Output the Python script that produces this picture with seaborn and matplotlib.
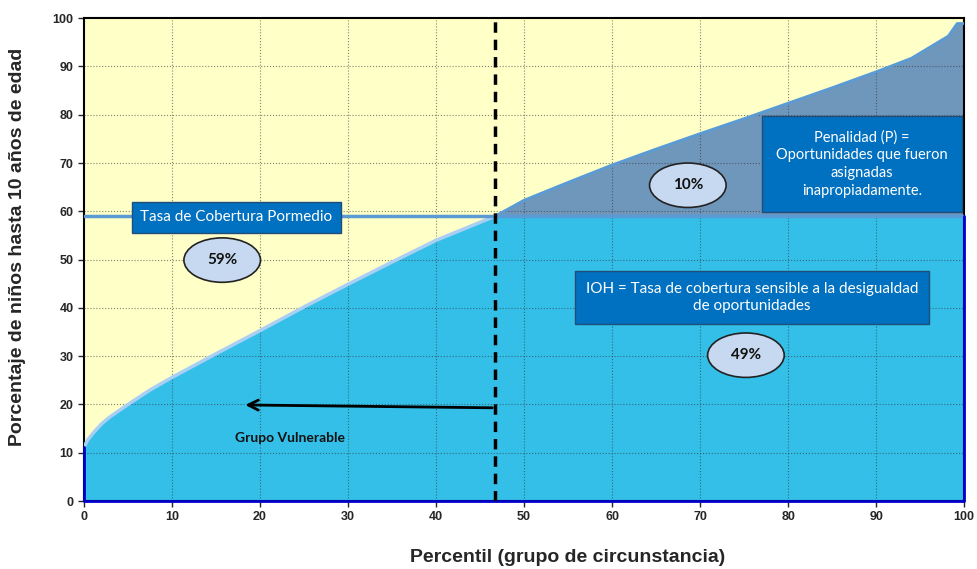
import numpy as np
import pandas as pd
import matplotlib
matplotlib.use("Agg")
import matplotlib.pyplot as plt
import seaborn as sns
from matplotlib.patches import Ellipse

# datos
percentil = [0, 0.4, 1, 2, 3, 5, 7.5, 10, 15, 20, 25, 30, 35, 40, 46.7, 50, 55, 60, 65, 70, 75, 80, 85, 90, 94, 98.2, 99.2, 100]
cobertura = [11.2, 12.6, 14, 16, 17.5, 20, 23, 25.6, 30.5, 35.3, 40.2, 44.9, 49.5, 54, 59, 62.3, 66, 69.6, 72.9, 76.1, 79.2, 82.4, 85.6, 88.9, 91.7, 96.3, 98.9, 98.9]
tasa_promedio = 59
corte_vulnerable = 46.7
etiquetas_pct = ["59%", "10%", "49%"]

df = pd.DataFrame({"Percentil": percentil, "Cobertura": cobertura})

sns.set_style("white")
plt.rcParams["font.family"] = ["Liberation Sans", "DejaVu Sans"]

fig = plt.figure(figsize=(9.78, 5.69), dpi=100)
ax = fig.add_axes([0.0859, 0.1195, 0.9, 0.8485])
ax.set_facecolor("#FFFFC8")

x = np.array(percentil)
y = np.array(cobertura)
ax.fill_between(x, 0, np.minimum(y, tasa_promedio), color="#33BFE8", zorder=1, lw=0)
ax.fill_between(x, tasa_promedio, y, where=y >= tasa_promedio, color="#6F96BB", zorder=1, lw=0)

# grid punteado
for v in range(10, 100, 10):
    ax.axvline(v, color="#333333", ls=":", lw=0.8, alpha=0.6, zorder=1.5)
    ax.axhline(v, color="#333333", ls=":", lw=0.8, alpha=0.6, zorder=1.5)

izq = df[df["Percentil"] <= corte_vulnerable]
der = df[df["Percentil"] >= corte_vulnerable]
sns.lineplot(data=izq, x="Percentil", y="Cobertura", ax=ax, color="#A9CFF5", lw=2.5, zorder=3)
sns.lineplot(data=der, x="Percentil", y="Cobertura", ax=ax, color="#5B9BD5", lw=2, zorder=3)

ax.plot([0, 100], [tasa_promedio, tasa_promedio], color="#5B9BD5", lw=2.5, zorder=3)
# bordes azules de la serie
ax.plot([0, 0, 100, 100], [cobertura[0], 0, 0, tasa_promedio], color="#0000CC", lw=2, zorder=4, clip_on=False)

ax.axvline(corte_vulnerable, color="black", ls=(0, (3, 2)), lw=2.5, zorder=5)

ax.annotate("", xy=(18, 19.9), xytext=(corte_vulnerable, 19.3),
            arrowprops=dict(arrowstyle="->", lw=2, color="black", mutation_scale=18), zorder=6)
ax.text(23.4, 13, "Grupo Vulnerable", ha="center", va="center", fontsize=10,
        fontweight="bold", family=["Lato", "DejaVu Sans"], color="#111111", zorder=6)

ax.text(17.3, 58.8, "Tasa de Cobertura Pormedio", ha="center", va="center", fontsize=11,
        color="white", family=["Lato", "DejaVu Sans"],
        bbox=dict(boxstyle="square,pad=0.55", fc="#0070C0", ec="#1F4E79", lw=1), zorder=7)
ax.text(88.4, 69.8, "Penalidad (P) =\nOportunidades que fueron\nasignadas\ninapropiadamente.",
        ha="center", va="center", fontsize=10.5, color="white", linespacing=1.35,
        family=["Lato", "DejaVu Sans"],
        bbox=dict(boxstyle="square,pad=0.95", fc="#0070C0", ec="#1F4E79", lw=1), zorder=7)
ax.text(75.9, 42.1, "IOH = Tasa de cobertura sensible a la desigualdad\nde oportunidades",
        ha="center", va="center", fontsize=11, color="white", linespacing=1.3,
        family=["Lato", "DejaVu Sans"],
        bbox=dict(boxstyle="square,pad=0.7", fc="#0070C0", ec="#1F4E79", lw=1), zorder=7)

for (cx, cy), lab in zip([(15.7, 49.9), (68.6, 65.4), (75.2, 30.2)], etiquetas_pct):
    ax.add_patch(Ellipse((cx, cy), 8.7, 9.2, fc="#C6D9F0", ec="#222222", lw=1.2, zorder=7))
    ax.text(cx, cy, lab, ha="center", va="center", fontsize=11, fontweight="bold",
            family=["Lato", "DejaVu Sans"], color="#111111", zorder=8)

ax.set_xlim(0, 100)
ax.set_ylim(0, 100)
ax.set_xticks(range(0, 101, 10))
ax.set_yticks(range(0, 101, 10))
ax.tick_params(axis="both", length=4, width=1, labelsize=9, direction="out", bottom=True, left=True)
for lab in ax.get_xticklabels() + ax.get_yticklabels():
    lab.set_fontweight("bold")
    lab.set_family(["Liberation Sans Narrow", "Liberation Sans", "DejaVu Sans"])
for s in ax.spines.values():
    s.set_color("black")
    s.set_linewidth(1.5)

ax.set_xlabel("")
ax.set_ylabel("")
fig.text(0.58, 0.02, "Percentil (grupo de circunstancia)", ha="center", va="center",
         fontsize=14, fontweight="bold")
fig.text(0.018, 0.566, "Porcentaje de niños hasta 10 años de edad", ha="center", va="center",
         rotation=90, fontsize=14, fontweight="bold")

plt.savefig("out.png", dpi=100)
